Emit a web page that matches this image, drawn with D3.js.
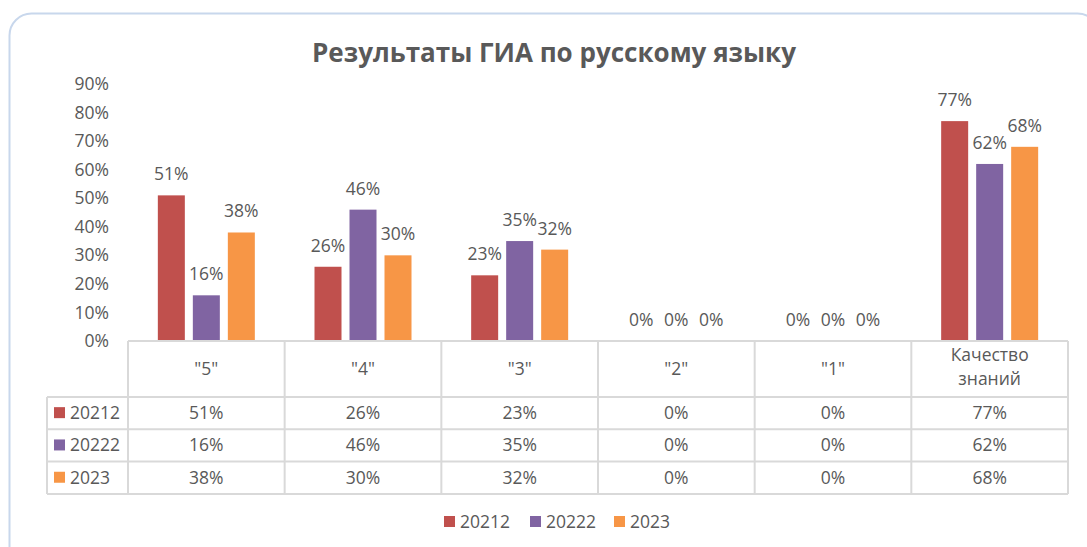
<!DOCTYPE html>
<html>
<head>
<meta charset="utf-8">
<script src="https://cdn.jsdelivr.net/npm/d3@7"></script>
<style>
  body { margin: 0; background: #fff; }
  text { font-family: "Open Sans", "DejaVu Sans", sans-serif; fill: #595959; }
</style>
</head>
<body>
<div id="chart"></div>
<script>
const categories = ['"5"', '"4"', '"3"', '"2"', '"1"', "Качество знаний"];
const seriesNames = ["20212", "20222", "2023"];
const seriesColors = ["#c0504d", "#8064a2", "#f79646"];
const values2021 = [51, 26, 23, 0, 0, 77];
const values2022 = [16, 46, 35, 0, 0, 62];
const values2023 = [38, 30, 32, 0, 0, 68];
const yTicks = [0, 10, 20, 30, 40, 50, 60, 70, 80, 90];

const series = [values2021, values2022, values2023];

function PlotChart(parent_element) {
  const width = 1087, height = 547;
  const fs = "17.5px";
  const svg = d3.select("#" + parent_element)
    .append("svg")
      .attr("width", width)
      .attr("height", height);

  // frame
  svg.append("rect")
    .attr("x", 9.5).attr("y", 13.5)
    .attr("width", 1090).attr("height", 560)
    .attr("rx", 22)
    .attr("fill", "#fff")
    .attr("stroke", "#c8d7ec")
    .attr("stroke-width", 2);

  svg.append("text")
    .attr("x", 554).attr("y", 62)
    .attr("text-anchor", "middle")
    .style("font-size", "26px")
    .style("font-weight", "bold")
    .text("Результаты ГИА по русскому языку");

  const x = d3.scaleBand().domain(categories).range([128, 1068]);
  const y = d3.scaleLinear().domain([0, 90]).range([341, 84]);
  const barW = 27, gap = 8;

  // y axis labels
  const yAxis = svg.append("g")
    .attr("transform", "translate(109,0)")
    .call(d3.axisLeft(y).tickValues(yTicks).tickFormat(d => d + "%").tickSize(0).tickPadding(0));
  yAxis.select(".domain").remove();
  yAxis.selectAll("text")
    .style("font-size", fs)
    .style("font-family", null)
    .attr("fill", "#595959");

  // bars
  series.forEach((vals, si) => {
    const g = svg.append("g");
    const off = (x.bandwidth() - (3 * barW + 2 * gap)) / 2 + si * (barW + gap);
    g.selectAll("rect")
      .data(vals)
      .enter()
      .append("rect")
        .attr("x", (d, i) => x(categories[i]) + off)
        .attr("y", d => y(d))
        .attr("width", barW)
        .attr("height", d => y(0) - y(d))
        .attr("fill", seriesColors[si]);
    g.selectAll("text")
      .data(vals)
      .enter()
      .append("text")
        .attr("x", (d, i) => x(categories[i]) + off + barW / 2)
        .attr("y", d => y(d) - 15)
        .attr("text-anchor", "middle")
        .style("font-size", fs)
        .text(d => d + "%");
  });

  // data table
  const tableLeft = 47, headTop = 341, headBottom = 397, rowH = 32.3;
  const tableRight = 1068;
  const bottom = headBottom + rowH * 3;
  const grid = svg.append("g")
    .attr("stroke", "#d9d9d9")
    .attr("stroke-width", 2);

  grid.append("line").attr("x1", 128).attr("x2", tableRight).attr("y1", headTop).attr("y2", headTop);
  [0, 1, 2, 3].forEach(r => {
    const yy = headBottom + r * rowH;
    grid.append("line").attr("x1", tableLeft).attr("x2", tableRight).attr("y1", yy).attr("y2", yy);
  });
  grid.append("line").attr("x1", tableLeft).attr("x2", tableLeft).attr("y1", headBottom).attr("y2", bottom);
  categories.forEach(c => {
    grid.append("line").attr("x1", x(c)).attr("x2", x(c)).attr("y1", headTop).attr("y2", bottom);
  });
  grid.append("line").attr("x1", tableRight).attr("x2", tableRight).attr("y1", headTop).attr("y2", bottom);

  // header labels
  categories.forEach(c => {
    const t = svg.append("text")
      .attr("x", x(c) + x.bandwidth() / 2)
      .attr("text-anchor", "middle")
      .style("font-size", fs);
    if (c === "Качество знаний") {
      t.attr("y", 361);
      t.append("tspan").attr("x", x(c) + x.bandwidth() / 2).text("Качество");
      t.append("tspan").attr("x", x(c) + x.bandwidth() / 2).attr("dy", 24).text("знаний");
    } else {
      t.attr("y", 375).text(c);
    }
  });

  // rows
  series.forEach((vals, si) => {
    const rowMid = headBottom + si * rowH + rowH / 2;
    svg.append("rect")
      .attr("x", 54).attr("y", rowMid - 6)
      .attr("width", 11).attr("height", 11)
      .attr("fill", seriesColors[si]);
    svg.append("text")
      .attr("x", 70).attr("y", rowMid + 6)
      .style("font-size", fs)
      .text(seriesNames[si]);
    vals.forEach((v, i) => {
      svg.append("text")
        .attr("x", x(categories[i]) + x.bandwidth() / 2)
        .attr("y", rowMid + 6)
        .attr("text-anchor", "middle")
        .style("font-size", fs)
        .text(v + "%");
    });
  });

  // legend
  const legendX = [444, 530, 614];
  seriesNames.forEach((n, i) => {
    svg.append("rect")
      .attr("x", legendX[i]).attr("y", 516)
      .attr("width", 11).attr("height", 11)
      .attr("fill", seriesColors[i]);
    svg.append("text")
      .attr("x", legendX[i] + 16).attr("y", 528)
      .style("font-size", fs)
      .text(n);
  });
}

document.addEventListener('DOMContentLoaded', (event) => {
  PlotChart("chart");
});
</script>
</body>
</html>
